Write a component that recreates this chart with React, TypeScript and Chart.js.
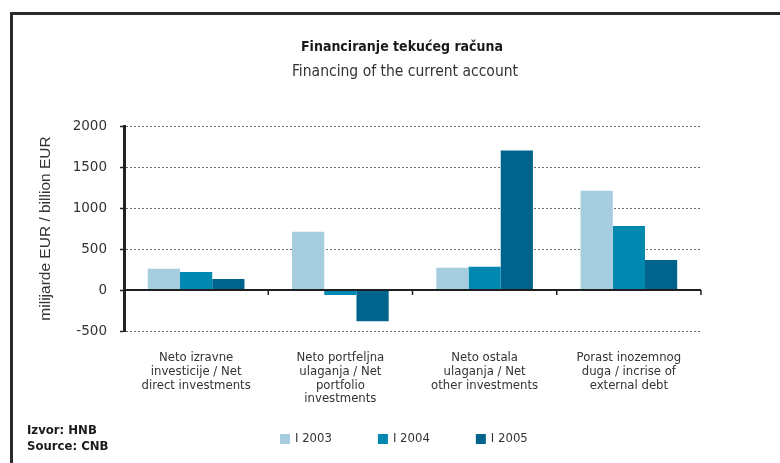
import React, { useEffect, useRef } from "react";
import { Chart, registerables } from "chart.js";

Chart.register(...registerables);

const categories: string[][] = [
  ["Neto izravne", "investicije / Net", "direct investments"],
  ["Neto portfeljna", "ulaganja / Net", "portfolio", "investments"],
  ["Neto ostala", "ulaganja / Net", "other investments"],
  ["Porast inozemnog", "duga / incrise of", "external debt"],
];
const seriesLabels = ["I 2003", "I 2004", "I 2005"];
const values2003 = [260, 710, 270, 1210];
const values2004 = [220, -60, 285, 780];
const values2005 = [135, -380, 1700, 365];
const yTicks = [-500, 0, 500, 1000, 1500, 2000];
const titleText = "Financiranje tekućeg računa";
const subtitleText = "Financing of the current account";
const yAxisTitle = "milijarde EUR / billion EUR";
const sourceLines = ["Izvor: HNB", "Source: CNB"];
const seriesColors = ["#a6cce0", "#0088b0", "#00648d"];

const NARROW = "'Liberation Sans Narrow', 'DejaVu Sans Condensed', sans-serif";
const TICKFONT = "'DejaVu Sans', sans-serif";

const decorPlugin = {
  id: "decor",
  beforeDraw(chart: any) {
    const ctx = chart.ctx;
    ctx.save();
    ctx.strokeStyle = "#2b2b2b";
    ctx.lineWidth = 3;
    ctx.beginPath();
    ctx.moveTo(780, 13.5);
    ctx.lineTo(11.5, 13.5);
    ctx.lineTo(11.5, 463);
    ctx.stroke();
    ctx.fillStyle = "#1a1a1a";
    ctx.textAlign = "center";
    ctx.textBaseline = "middle";
    ctx.font = "bold 14px " + NARROW;
    ctx.fillText(titleText, 402, 47);
    ctx.fillStyle = "#333";
    ctx.font = "15.5px " + NARROW;
    ctx.fillText(subtitleText, 405, 72);
    ctx.textAlign = "left";
    ctx.fillStyle = "#1a1a1a";
    ctx.font = "bold 13px " + NARROW;
    sourceLines.forEach((s, i) => ctx.fillText(s, 27, 431 + i * 16));
    ctx.restore();
  },
  afterDatasetsDraw(chart: any) {
    const ctx = chart.ctx;
    const xs = chart.scales.x;
    const ys = chart.scales.y;
    const y0 = ys.getPixelForValue(0);
    ctx.save();
    ctx.strokeStyle = "#1f1f1f";
    ctx.lineWidth = 2;
    ctx.beginPath();
    ctx.moveTo(xs.left, y0);
    ctx.lineTo(xs.right, y0);
    ctx.stroke();
    ctx.lineWidth = 1.5;
    const n = categories.length;
    const step = (xs.right - xs.left) / n;
    for (let i = 1; i <= n; i++) {
      const x = xs.left + i * step;
      ctx.beginPath();
      ctx.moveTo(x, y0);
      ctx.lineTo(x, y0 + 5);
      ctx.stroke();
    }
    ctx.restore();
  },
  afterDraw(chart: any) {
    const ctx = chart.ctx;
    ctx.save();
    ctx.font = "13px " + NARROW;
    ctx.textBaseline = "middle";
    ctx.textAlign = "left";
    let x = 280;
    chart.data.datasets.forEach((ds: any) => {
      ctx.fillStyle = ds.backgroundColor;
      ctx.fillRect(x, 434, 10, 10);
      ctx.fillStyle = "#333";
      ctx.fillText(ds.label, x + 15, 439);
      x += 15 + ctx.measureText(ds.label).width + 46;
    });
    ctx.restore();
  },
};

export default function App() {
  const ref = useRef<HTMLCanvasElement | null>(null);
  useEffect(() => {
    document.body.style.margin = "0";
    if (!ref.current) return;
    const data = [values2003, values2004, values2005];
    const chart = new Chart(ref.current, {
      type: "bar",
      data: {
        labels: categories,
        datasets: seriesLabels.map((label, i) => ({
          label,
          data: data[i],
          backgroundColor: seriesColors[i],
          borderWidth: 0,
          barPercentage: 1,
          categoryPercentage: 0.67,
        })),
      },
      options: {
        responsive: false,
        animation: false,
        events: [],
        layout: { padding: { left: 36, right: 79, top: 126, bottom: 52 } },
        plugins: {
          legend: { display: false },
          title: { display: false },
          tooltip: { enabled: false },
        },
        scales: {
          x: {
            grid: { display: false, drawTicks: false },
            border: { display: false },
            ticks: {
              color: "#333",
              padding: 20,
              maxRotation: 0,
              autoSkip: false,
              font: { family: NARROW, size: 13, lineHeight: 1.05 },
            },
            afterFit: (s: any) => {
              s.height = 80;
            },
          },
          y: {
            min: -500,
            max: 2000,
            afterBuildTicks: (s: any) => {
              s.ticks = yTicks.map((v) => ({ value: v }));
            },
            grid: {
              color: "#6a6a6a",
              lineWidth: 1,
              drawTicks: true,
              tickLength: 4,
              tickColor: "#222",
              tickWidth: 1.5,
              tickBorderDash: [],
            },
            border: { display: true, color: "#222", width: 3, dash: [2, 2] },
            ticks: {
              color: "#333",
              padding: 13,
              font: { family: TICKFONT, size: 13.5 },
              callback: (v: any) => String(v),
            },
            title: {
              display: true,
              text: yAxisTitle,
              color: "#333",
              font: { family: "'Liberation Sans', sans-serif", size: 15.5 },
              padding: { top: 0, bottom: 0 },
            },
            afterFit: (s: any) => {
              s.width = 88;
            },
          },
        },
      },
      plugins: [decorPlugin],
    });
    return () => chart.destroy();
  }, []);
  return (
    <div style={{ width: 780, height: 463, position: "relative", background: "#fff" }}>
      <canvas ref={ref} width={780} height={463} style={{ display: "block" }} />
    </div>
  );
}
